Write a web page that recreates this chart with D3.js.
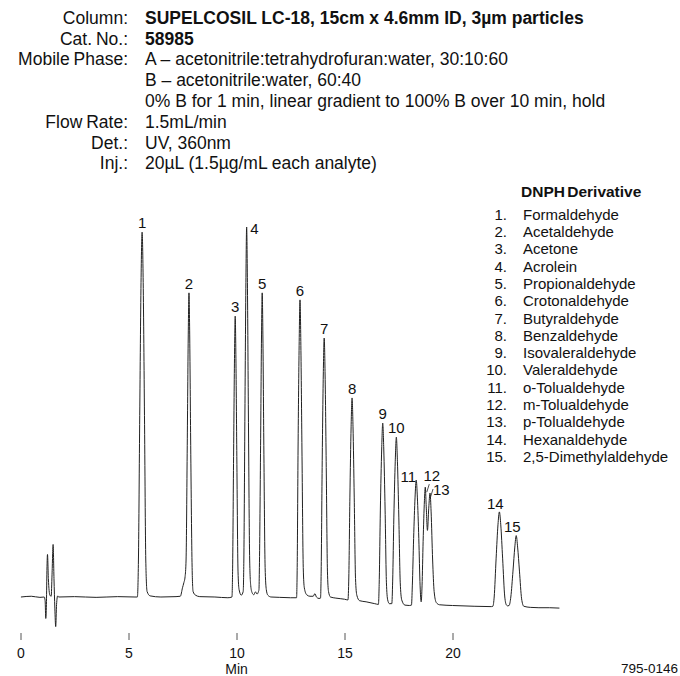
<!DOCTYPE html>
<html>
<head>
<meta charset="utf-8">
<script src="https://cdn.jsdelivr.net/npm/d3@7"></script>
<style>
  body { margin: 0; background: #fff; }
  svg { display: block; font-family: "Liberation Sans", Arial, sans-serif; }
</style>
</head>
<body>
<svg id="chart" width="680" height="676"></svg>
<script>
// header block
var headerLabels = ["Column:", "Cat. No.:", "Mobile Phase:", "", "", "Flow Rate:", "Det.:", "Inj.:"];
var headerValues = [
  "SUPELCOSIL LC-18, 15cm x 4.6mm ID, 3\u00b5m particles",
  "58985",
  "A \u2013 acetonitrile:tetrahydrofuran:water, 30:10:60",
  "B \u2013 acetonitrile:water, 60:40",
  "0% B for 1 min, linear gradient to 100% B over 10 min, hold",
  "1.5mL/min",
  "UV, 360nm",
  "20\u00b5L (1.5\u00b5g/mL each analyte)"
];
var headerBold = [true, true, false, false, false, false, false, false];

// legend
var legendTitle = "DNPH Derivative";
var compounds = ["Formaldehyde", "Acetaldehyde", "Acetone", "Acrolein", "Propionaldehyde",
  "Crotonaldehyde", "Butyraldehyde", "Benzaldehyde", "Isovaleraldehyde", "Valeraldehyde",
  "o-Tolualdehyde", "m-Tolualdehyde", "p-Tolualdehyde", "Hexanaldehyde", "2,5-Dimethylaldehyde"];

// peak apexes (min, signal)
var peakTimes   = [5.63, 7.80, 9.94, 10.47, 11.19, 12.94, 14.06, 15.35, 16.77, 17.40, 18.32, 18.74, 18.96, 22.17, 22.95];
var peakHeights = [98.6, 82.2, 75.9, 100, 82.2, 80.3, 70, 53.8, 47, 43.2, 31.6, 29.7, 28.1, 23, 16.6];

// x ticks
var timeTicks = [0, 5, 10, 15, 20];

// detector trace: [min, signal]
var trace = [
  [0.02, 0], [0.5, 0.2], [0.9, -0.1], [1.10, 0], [1.14, -1], [1.17, -5.8], [1.20, -2], [1.22, 6],
  [1.25, 11.5], [1.29, 5], [1.36, 0.5], [1.42, 0.2], [1.46, 6], [1.51, 14.2], [1.55, 5], [1.59, -3],
  [1.63, -8], [1.67, -2], [1.72, 0.3], [1.76, 0], [2.5, 0.1], [3.5, -0.1], [4.5, 0.1], [5.3, 0],
  // 1
  [5.41, 0], [5.46, 10], [5.52, 49], [5.58, 85], [5.63, 98.6], [5.68, 85], [5.74, 49], [5.80, 10],
  [5.86, 1.5], [6.0, 0.3], [6.5, 0], [7.2, 0.1],
  // 2 with its shoulder
  [7.40, 0.2], [7.50, 2.5], [7.56, 3.8], [7.62, 5.5], [7.665, 10], [7.72, 41], [7.765, 70],
  [7.80, 82.2], [7.835, 70], [7.88, 41], [7.945, 8], [7.99, 1.5], [8.1, 0.5], [8.3, 0.1],
  [9.0, 0], [9.6, -0.2],
  // 3, 4
  [9.79, 0], [9.82, 7.6], [9.865, 38], [9.907, 64.5], [9.94, 75.9], [9.973, 64.5], [10.015, 38],
  [10.07, 7], [10.12, 2], [10.22, 0.5], [10.31, 1.5], [10.34, 10], [10.39, 50], [10.435, 85],
  [10.47, 100], [10.505, 85], [10.55, 50], [10.61, 10], [10.66, 3], [10.72, 1.2], [10.80, 0.6],
  [10.88, 1.4], [10.95, 0.8], [11.02, 1.5],
  // 5
  [11.04, 2], [11.06, 8], [11.115, 41], [11.157, 70], [11.19, 82.2], [11.223, 70], [11.265, 41],
  [11.325, 8], [11.38, 2], [11.45, 0.5], [11.6, 0], [12.0, -0.1], [12.5, -0.2],
  // 6
  [12.78, -0.2], [12.81, 8], [12.85, 40], [12.90, 68], [12.94, 80.3], [12.98, 68], [13.03, 40],
  [13.09, 8], [13.14, 2.5], [13.25, 0.6], [13.40, 0.2], [13.55, 0.2], [13.63, 0.9], [13.70, 0],
  [13.82, -0.4],
  // 7
  [13.89, -0.3], [13.92, 7], [13.965, 35], [14.018, 60], [14.06, 70], [14.102, 60], [14.155, 35],
  [14.21, 7], [14.26, 1.5], [14.35, 0], [14.6, -0.3], [15.0, -0.6],
  // 8
  [15.16, -0.8], [15.20, 5.4], [15.25, 27], [15.306, 46], [15.35, 53.8], [15.394, 46], [15.45, 27],
  [15.51, 5], [15.57, 0.5], [15.7, -1], [16.0, -1.3], [16.4, -1.8],
  // 9, 10
  [16.57, -2], [16.61, 4.7], [16.66, 23.5], [16.722, 40], [16.77, 47], [16.818, 40], [16.88, 23.5],
  [16.94, 4], [17.0, -0.8], [17.08, -1.8], [17.19, -1.8], [17.23, 4.3], [17.285, 21.6],
  [17.35, 36.7], [17.40, 43.2], [17.45, 36.7], [17.515, 21.6], [17.58, 4], [17.65, -0.8],
  [17.80, -2.2], [18.0, -2.3],
  // 11, 12, 13
  [18.10, -2.2], [18.14, 3], [18.20, 15.8], [18.267, 27], [18.32, 31.6], [18.373, 27], [18.44, 15.8],
  [18.50, 3], [18.55, -1.3], [18.59, 3], [18.64, 15], [18.70, 26], [18.74, 29.7], [18.78, 25],
  [18.84, 18], [18.90, 24], [18.96, 28.1], [19.01, 23], [19.08, 10], [19.15, 1.5], [19.25, -1.5],
  [19.4, -2.1], [20.0, -2.3], [21.0, -2.5], [21.8, -2.6],
  // 14, 15
  [21.87, -2.5], [21.93, 0], [22.02, 10.5], [22.105, 19.5], [22.17, 23], [22.235, 19.5], [22.32, 10.5],
  [22.42, 0], [22.50, -2.2], [22.56, -2.4], [22.62, -2.3], [22.70, 0], [22.80, 7], [22.885, 13.5],
  [22.95, 16.6], [23.015, 13.5], [23.10, 7], [23.20, -0.5], [23.30, -2.5], [23.6, -2.8],
  [24.0, -2.9], [24.5, -2.9], [24.95, -3.0]
];

var svg = d3.select("#chart");

var x = d3.scaleLinear().domain([0, 25]).range([20.5, 560.5]);
var y = d3.scaleLinear().domain([0, 100]).range([597, 227]);

// header
var hdr = svg.append("g").attr("font-size", 17.5).attr("fill", "#111");
headerLabels.forEach(function (lab, i) {
  var by = 23.7 + i * 20.8;
  if (lab) {
    hdr.append("text").attr("x", 128).attr("y", by).attr("text-anchor", "end")
      .attr("word-spacing", -1).text(lab);
  }
  hdr.append("text").attr("x", 145).attr("y", by)
    .attr("font-weight", headerBold[i] ? "bold" : null)
    .text(headerValues[i]);
});

// legend
var leg = svg.append("g").attr("font-size", 15).attr("fill", "#111");
leg.append("text").attr("x", 521).attr("y", 197).attr("font-weight", "bold")
  .attr("font-size", 15.5).attr("word-spacing", -2).text(legendTitle);
compounds.forEach(function (c, i) {
  var by = 219.7 + i * 17.3;
  leg.append("text").attr("x", 507).attr("y", by).attr("text-anchor", "end").text((i + 1) + ".");
  leg.append("text").attr("x", 523).attr("y", by).text(c);
});

// trace
var line = d3.line()
  .x(function (d) { return x(d[0]); })
  .y(function (d) { return y(d[1]); })
  .curve(d3.curveMonotoneX);

svg.append("path")
  .datum(trace)
  .attr("fill", "none")
  .attr("stroke", "#222")
  .attr("stroke-width", 1)
  .attr("stroke-linejoin", "round")
  .attr("d", line);

// peak labels, offsets in px from the apex
var labelOffset = {
  4: [3.5, 7, "start"], 11: [-8, 2, "middle"], 12: [6.5, -6, "middle"], 13: [3, 1.5, "start"],
  14: [-4, -3, "middle"], 15: [-4, -4, "middle"]
};
var pl = svg.append("g").attr("font-size", 15).attr("fill", "#111");
peakTimes.forEach(function (t, i) {
  var n = i + 1;
  var o = labelOffset[n] || [0, -4, "middle"];
  pl.append("text")
    .attr("x", x(t) + o[0])
    .attr("y", y(peakHeights[i]) + o[1])
    .attr("text-anchor", o[2])
    .text(n);
});
// leader ticks for 12 and 13
[[11, 1.5, 5, 4, -3], [12, 0.5, 4, 3, -4]].forEach(function (l) {
  var px = x(peakTimes[l[0]]), py = y(peakHeights[l[0]]);
  svg.append("line")
    .attr("x1", px + l[1]).attr("y1", py + l[2])
    .attr("x2", px + l[3]).attr("y2", py + l[4])
    .attr("stroke", "#222").attr("stroke-width", 0.8);
});

// axis
var axis = svg.append("g")
  .attr("transform", "translate(0,633)")
  .call(d3.axisBottom(x).tickValues(timeTicks).tickSize(7).tickPadding(8));
axis.select(".domain").remove();
axis.selectAll(".tick line").attr("stroke", "#555");
axis.selectAll(".tick text").attr("font-size", 14).attr("fill", "#111")
  .attr("font-family", "Liberation Sans, Arial, sans-serif");

svg.append("text").attr("x", x(10)).attr("y", 674).attr("text-anchor", "middle")
  .attr("font-size", 14).attr("fill", "#111").text("Min");
svg.append("text").attr("x", 678).attr("y", 673).attr("text-anchor", "end")
  .attr("font-size", 13.5).attr("fill", "#111").text("795-0146");
</script>
</body>
</html>
